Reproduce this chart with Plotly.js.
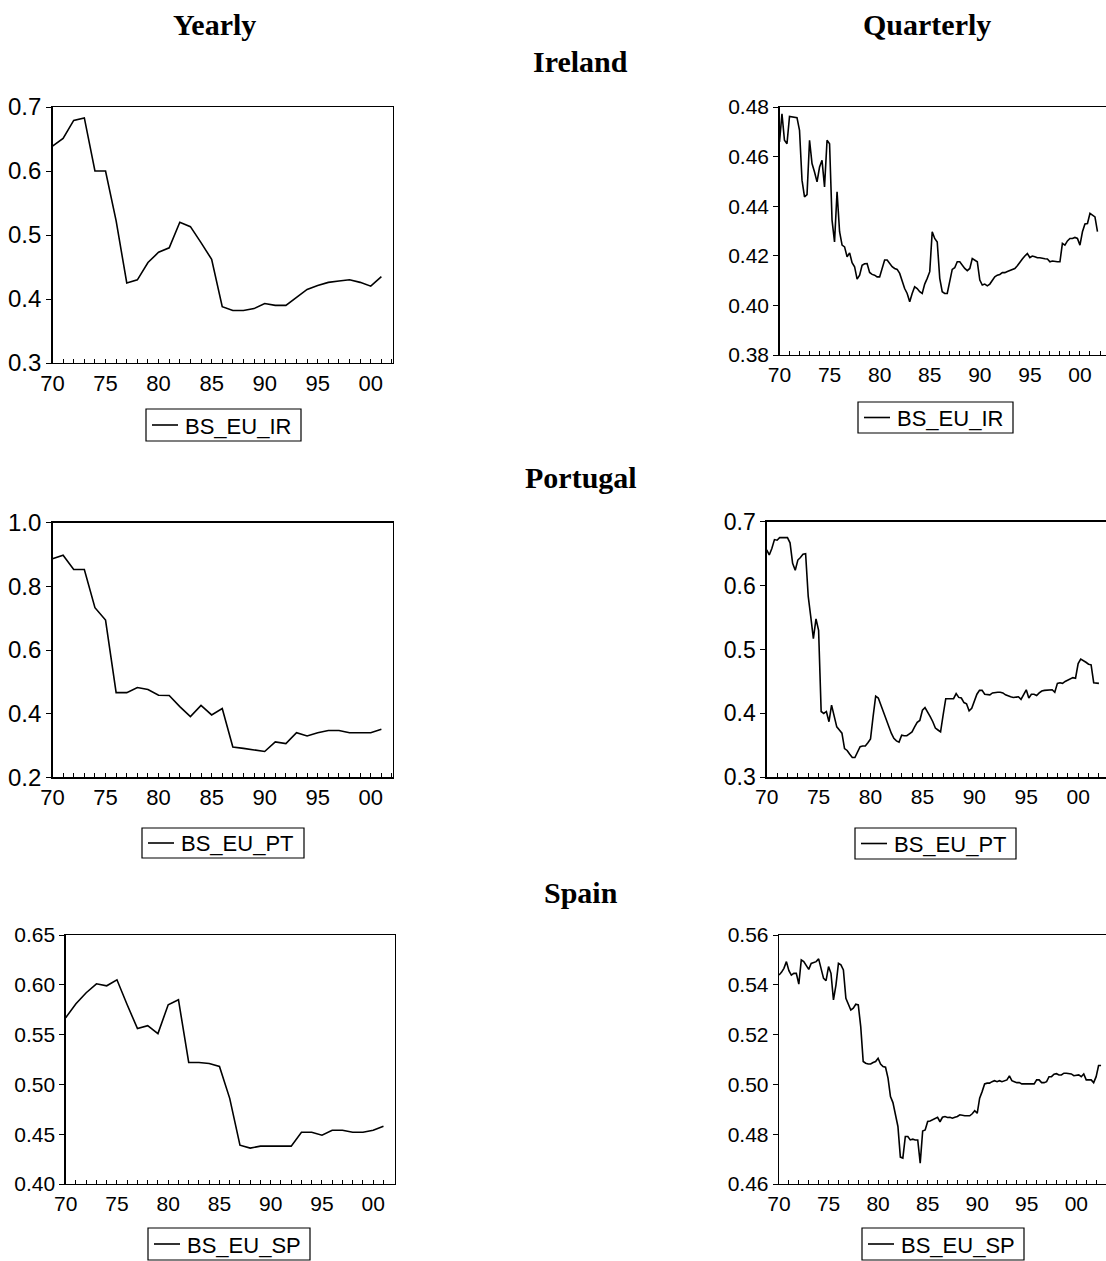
<!DOCTYPE html>
<html><head><meta charset="utf-8">
<script src="https://cdn.plot.ly/plotly-3.0.1.min.js"></script>
<style>html,body{margin:0;padding:0;background:#fff;overflow:hidden;width:1106px;height:1261px}</style>
</head><body><div id="chart" style="width:1120px;height:1261px"></div>
<script>
// ---------- data ----------
const FIRST_YEAR = 1970;
const seriesNames = ['BS_EU_IR', 'BS_EU_IR', 'BS_EU_PT', 'BS_EU_PT', 'BS_EU_SP', 'BS_EU_SP'];
const columnTitles = ['Yearly', 'Quarterly'];
const countryTitles = ['Ireland', 'Portugal', 'Spain'];

const IR_yearly = [0.639,0.651,0.679,0.683,0.600,0.600,0.522,0.425,0.430,0.457,0.473,0.480,0.520,0.513,0.488,0.462,0.388,0.382,0.382,0.385,0.393,0.390,0.390,0.402,0.415,0.421,0.426,0.428,0.430,0.426,0.420,0.435];
const PT_yearly = [0.887,0.898,0.853,0.853,0.733,0.694,0.466,0.466,0.482,0.476,0.458,0.457,0.422,0.391,0.426,0.396,0.416,0.295,0.291,0.286,0.281,0.311,0.306,0.340,0.330,0.340,0.347,0.347,0.340,0.340,0.340,0.351];
const SP_yearly = [0.567,0.581,0.592,0.601,0.599,0.605,0.580,0.556,0.559,0.551,0.580,0.585,0.522,0.522,0.521,0.518,0.486,0.439,0.436,0.438,0.438,0.438,0.438,0.452,0.452,0.449,0.454,0.454,0.452,0.452,0.454,0.458];

const IR_quarterly = [0.4659,0.4773,0.4666,0.4652,0.4762,0.4760,0.4757,0.4757,0.4706,0.4505,
0.4438,0.4447,0.4666,0.4572,0.4538,0.4498,0.4558,0.4585,0.4478,0.4666,
0.4652,0.4344,0.4256,0.4458,0.4297,0.4243,0.4236,0.4196,0.4212,0.4172,
0.4156,0.4106,0.4122,0.4162,0.4168,0.4169,0.4133,0.4125,0.4122,0.4115,
0.4115,0.4149,0.4183,0.4183,0.4169,0.4156,0.4149,0.4145,0.4129,0.4095,
0.4068,0.4048,0.4015,0.4048,0.4075,0.4068,0.4055,0.4048,0.4086,0.4109,
0.4136,0.4297,0.4270,0.4256,0.4109,0.4055,0.4048,0.4048,0.4095,0.4145,
0.4152,0.4176,0.4176,0.4162,0.4149,0.4140,0.4149,0.4189,0.4183,0.4176,
0.4102,0.4082,0.4086,0.4079,0.4086,0.4102,0.4115,0.4122,0.4125,0.4132,
0.4132,0.4137,0.4142,0.4145,0.4149,0.4160,0.4176,0.4187,0.4199,0.4209,
0.4193,0.4199,0.4196,0.4192,0.4192,0.4189,0.4188,0.4187,0.4176,0.4179,
0.4176,0.4176,0.4176,0.4250,0.4243,0.4260,0.4270,0.4270,0.4274,0.4270,
0.4243,0.4297,0.4328,0.4330,0.4371,0.4364,0.4357,0.4297];

const PT_quarterly = [0.656,0.648,0.658,0.672,0.671,0.675,0.675,0.675,0.675,0.667,
0.635,0.624,0.640,0.644,0.649,0.650,0.583,0.551,0.517,0.548,
0.530,0.403,0.400,0.403,0.387,0.413,0.398,0.379,0.374,0.369,
0.345,0.342,0.336,0.331,0.331,0.340,0.348,0.349,0.349,0.354,
0.360,0.395,0.427,0.424,0.413,0.400,0.392,0.379,0.369,0.361,
0.357,0.355,0.366,0.365,0.365,0.368,0.371,0.379,0.386,0.389,
0.405,0.409,0.403,0.395,0.387,0.377,0.374,0.371,0.398,0.423,
0.423,0.423,0.423,0.431,0.425,0.424,0.417,0.415,0.404,0.408,
0.421,0.430,0.436,0.436,0.430,0.429,0.429,0.432,0.433,0.433,
0.433,0.432,0.429,0.427,0.426,0.425,0.425,0.426,0.422,0.429,
0.437,0.424,0.430,0.430,0.428,0.432,0.435,0.436,0.436,0.436,
0.437,0.433,0.447,0.448,0.447,0.450,0.452,0.455,0.456,0.455,
0.478,0.485,0.483,0.480,0.477,0.476,0.448,0.447,0.447];

const SP_quarterly = [0.5439,0.5450,0.5466,0.5493,0.5457,0.5439,0.5446,0.5446,0.5403,0.5500,
0.5493,0.5480,0.5462,0.5486,0.5489,0.5493,0.5504,0.5460,0.5426,0.5417,
0.5473,0.5446,0.5339,0.5399,0.5486,0.5480,0.5460,0.5346,0.5319,0.5299,
0.5306,0.5322,0.5319,0.5232,0.5092,0.5085,0.5082,0.5082,0.5088,0.5092,
0.5105,0.5082,0.5072,0.5069,0.5025,0.4951,0.4927,0.4884,0.4831,0.4708,
0.4704,0.4791,0.4791,0.4777,0.4780,0.4777,0.4777,0.4684,0.4813,0.4817,
0.4851,0.4853,0.4858,0.4864,0.4868,0.4850,0.4868,0.4871,0.4867,0.4868,
0.4864,0.4868,0.4871,0.4878,0.4875,0.4874,0.4874,0.4874,0.4882,0.4894,
0.4884,0.4945,0.4971,0.5002,0.5005,0.5005,0.5011,0.5015,0.5011,0.5015,
0.5011,0.5015,0.5018,0.5034,0.5015,0.5011,0.5007,0.5007,0.5002,0.5002,
0.5002,0.5002,0.5002,0.5002,0.5018,0.5018,0.5007,0.5007,0.5011,0.5031,
0.5031,0.5041,0.5043,0.5038,0.5038,0.5045,0.5045,0.5045,0.5042,0.5035,
0.5035,0.5038,0.5031,0.5042,0.5018,0.5018,0.5018,0.5007,0.5031,0.5076,0.5076];

// ---------- helpers ----------
function pad(n){return (n<10?'0':'')+n;}
function yearlyDates(n){const d=[];for(let i=0;i<n;i++)d.push((FIRST_YEAR+i)+'-01-01');return d;}
function quarterlyDates(n){const d=[];for(let i=0;i<n;i++){d.push((FIRST_YEAR+Math.floor(i/4))+'-'+pad(1+3*(i%4))+'-01');}return d;}

const W = 1120, H = 1261;
const SANS = 'Liberation Sans, Arial, sans-serif';
const SERIF = 'Liberation Serif, Times New Roman, serif';

// panel boxes in pixels: [left, right, top, bottom]; legend boxes [left, right, top, bottom]
const panels = [
  {vals: IR_yearly,    freq:'Y', box:[52.5, 393, 107, 363],   yr:[0.3,0.7],   dt:0.1,  fmt:'.1f', xEnd:'2002-02-05', xfs:22, yfs:24, leg:[146, 301, 409, 441]},
  {vals: IR_quarterly, freq:'Q', box:[779.5,1113,107, 355],   yr:[0.38,0.48], dt:0.02, fmt:'.2f', xEnd:'2003-04-20', xfs:21, yfs:21, leg:[858, 1013, 402, 433]},
  {vals: PT_yearly,    freq:'Y', box:[52.5, 393, 522.7,777.3],yr:[0.2,1.0],   dt:0.2,  fmt:'.1f', xEnd:'2002-02-05', xfs:22, yfs:24, leg:[142, 304, 828, 858]},
  {vals: PT_quarterly, freq:'Q', box:[766.7,1112.4,521.7,777.3],yr:[0.3,0.7], dt:0.1,  fmt:'.1f', xEnd:'2003-04-20', xfs:21, yfs:23, leg:[855, 1016, 828, 859]},
  {vals: SP_yearly,    freq:'Y', box:[65.7, 394.7,935,1184],  yr:[0.40,0.65], dt:0.05, fmt:'.2f', xEnd:'2002-02-05', xfs:21, yfs:21, leg:[148, 310, 1228, 1260]},
  {vals: SP_quarterly, freq:'Q', box:[779, 1109, 935, 1184],  yr:[0.46,0.56], dt:0.02, fmt:'.2f', xEnd:'2003-04-20', xfs:21, yfs:21, leg:[862, 1024, 1228, 1260]}
];

const traces = [];
const layout = {
  width: W, height: H,
  margin: {l:0, r:0, t:0, b:0},
  paper_bgcolor: '#fff', plot_bgcolor: '#fff',
  showlegend: false,
  annotations: [], shapes: [],
  font: {family: SANS, color: '#000'}
};
const px = v => v / W, py = v => 1 - v / H;

panels.forEach((p, k) => {
  const n = k + 1;
  const xa = 'xaxis' + (n===1?'':n), ya = 'yaxis' + (n===1?'':n);
  const xs = 'x' + (n===1?'':n), ys = 'y' + (n===1?'':n);
  const x = p.freq === 'Y' ? yearlyDates(p.vals.length) : quarterlyDates(p.vals.length);
  traces.push({
    type:'scatter', mode:'lines', x: x, y: p.vals, xaxis: xs, yaxis: ys,
    name: seriesNames[k], showlegend: false,
    line: {color:'#000', width:1.6}, hoverinfo:'skip'
  });
  const [l, r, t, b] = p.box;
  layout[xa] = {
    type:'date', domain:[px(l), px(r)], anchor: ys,
    range:[FIRST_YEAR+'-01-01', p.xEnd],
    tickmode:'linear', tick0: FIRST_YEAR+'-01-01', dtick:'M60', tickformat:'%y',
    ticks:'inside', ticklen:4, tickwidth:1, tickcolor:'#000',
    minor:{dtick:'M12', tick0: FIRST_YEAR+'-01-01', ticks:'inside', ticklen:4, tickwidth:1, tickcolor:'#000', showgrid:false},
    showline:true, linecolor:'#000', linewidth:1.3, mirror:true,
    showgrid:false, zeroline:false, fixedrange:true,
    tickfont:{family:SANS, size:p.xfs, color:'#000'}
  };
  layout[ya] = {
    domain:[py(b), py(t)], anchor: xs,
    range: p.yr, tickmode:'linear', tick0: p.yr[0], dtick: p.dt, tickformat: p.fmt,
    ticks:'outside', ticklen:5, tickwidth:1, tickcolor:'#000',
    showline:true, linecolor:'#000', linewidth:1.3, mirror:true,
    showgrid:false, zeroline:false, fixedrange:true,
    tickfont:{family:SANS, size:p.yfs, color:'#000'}
  };
  // legend box (EViews style): frame, line sample, series name
  const [ll, lr, lt, lb] = p.leg;
  const lm = (lt + lb) / 2;
  layout.shapes.push({type:'rect', xref:'paper', yref:'paper', x0:px(ll), x1:px(lr), y0:py(lb), y1:py(lt),
    line:{color:'#000', width:1.2}, fillcolor:'#fff', layer:'above'});
  layout.shapes.push({type:'line', xref:'paper', yref:'paper', x0:px(ll+6), x1:px(ll+32), y0:py(lm), y1:py(lm),
    line:{color:'#000', width:1.6}, layer:'above'});
  layout.annotations.push({text: seriesNames[k], xref:'paper', yref:'paper', x:px(ll+37), y:py(lm+1),
    xanchor:'left', yanchor:'middle', showarrow:false, font:{family:SANS, size:22, color:'#000'}});
});

// titles
const titleAnn = (text, cx, cy, size) => ({
  text:'<b>'+text+'</b>', xref:'paper', yref:'paper', x:px(cx), y:py(cy),
  xanchor:'center', yanchor:'middle', showarrow:false,
  font:{family:SERIF, size:size, color:'#000'}
});
layout.annotations.push(titleAnn(columnTitles[0], 214, 24, 30));
layout.annotations.push(titleAnn(columnTitles[1], 927, 24, 30));
layout.annotations.push(titleAnn(countryTitles[0], 580, 61, 30));
layout.annotations.push(titleAnn(countryTitles[1], 581, 477, 30));
layout.annotations.push(titleAnn(countryTitles[2], 581, 892, 30));

Plotly.newPlot('chart', traces, layout, {staticPlot:true, displayModeBar:false});
</script>
</body></html>
